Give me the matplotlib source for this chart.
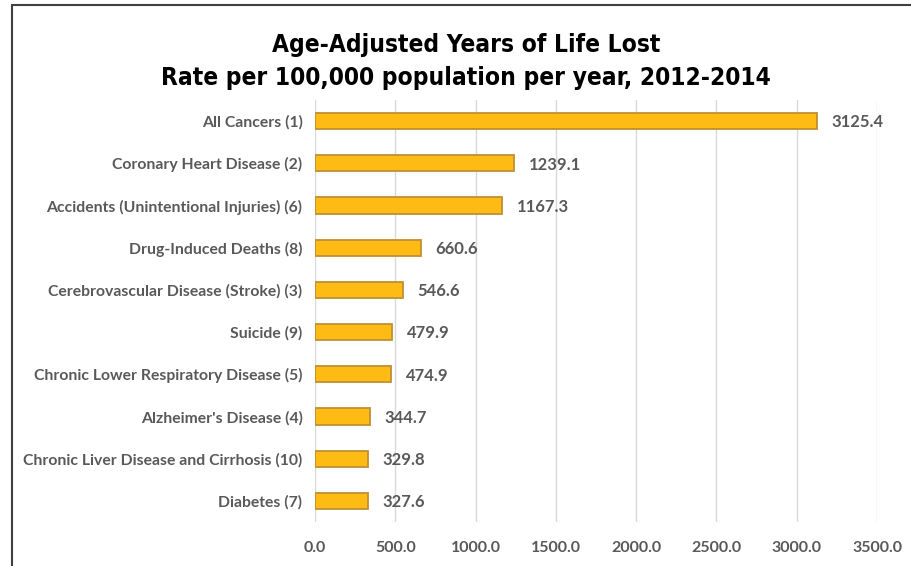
import matplotlib
matplotlib.use("Agg")
from matplotlib import pyplot as plt
from matplotlib.patches import Rectangle

causes = ['All Cancers (1)', 'Coronary Heart Disease (2)',
          'Accidents (Unintentional Injuries) (6)', 'Drug-Induced Deaths (8)',
          'Cerebrovascular Disease (Stroke) (3)', 'Suicide (9)',
          'Chronic Lower Respiratory Disease (5)', "Alzheimer's Disease (4)",
          'Chronic Liver Disease and Cirrhosis (10)', 'Diabetes (7)']
rates = [3125.4, 1239.1, 1167.3, 660.6, 546.6, 479.9, 474.9, 344.7, 329.8, 327.6]
xticks = [0, 500, 1000, 1500, 2000, 2500, 3000, 3500]

grey = '#595959'
fig = plt.figure(figsize=(9.11, 5.66), dpi=100)
fig.patches.append(Rectangle((12 / 911, -0.1), 1.2, 1 - 5 / 566 + 0.1,
                             transform=fig.transFigure, fill=False,
                             edgecolor='#404040', linewidth=1.5))

ax = fig.add_axes([315 / 911, 1 - 522 / 566, 562 / 911, 422 / 566])
pos = list(range(len(causes)))
ax.barh(pos, rates, height=0.38, color='#FDBB14', edgecolor='#BE9035',
        linewidth=1.3, zorder=3)
for p, v in zip(pos, rates):
    ax.text(v + 90, p + 0.03, '{0:.1f}'.format(v), va='center', ha='left',
            fontsize=12, fontweight='bold', color=grey, family='Lato')

ax.set_ylim(len(causes) - 0.5, -0.5)
ax.set_xlim(0, 3500)
ax.set_yticks(pos)
ax.set_yticklabels(causes, fontsize=11.3, fontweight='bold', color=grey, family='Lato')
ax.set_xticks(xticks)
ax.set_xticklabels(['{0:.1f}'.format(x) for x in xticks], fontsize=11.5,
                   fontweight='bold', color=grey, family='Lato')
ax.tick_params(axis='y', length=0, pad=9)
ax.tick_params(axis='x', length=0, pad=14)
ax.grid(axis='x', color='#D9D9D9', linewidth=1, zorder=0)
for s in ax.spines.values():
    s.set_visible(False)

title_font = dict(ha='center', va='center', fontsize=17.6, fontweight='bold',
                  family='DejaVu Sans', stretch='condensed', color='black')
fig.text(466 / 911, 1 - 45 / 566, 'Age-Adjusted Years of Life Lost', **title_font)
fig.text(466 / 911, 1 - 78 / 566, 'Rate per 100,000 population per year, 2012-2014', **title_font)

fig.savefig('out.png', dpi=100)
